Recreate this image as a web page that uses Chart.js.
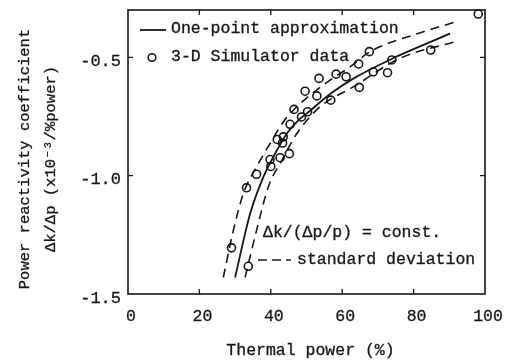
<!DOCTYPE html>
<html>
<head>
<meta charset="utf-8">
<script src="https://cdn.jsdelivr.net/npm/chart.js@4"></script>
<style>
  html, body { margin: 0; padding: 0; background: #fff; }
  #wrap { width: 514px; height: 361px; }
</style>
</head>
<body>
<div id="wrap"><canvas id="c" width="514" height="361"></canvas></div>
<script>
// 3-D simulator data points (thermal power %, coefficient)
const simX = [98.1, 84.8, 73.9, 72.7, 68.7, 67.6, 64.6, 64.8, 61.1, 58.3, 56.8, 53.5, 52.9, 50.3, 49.6,
              48.6, 46.5, 45.4, 45.2, 43.5, 43.3, 42.6, 41.8, 40.0, 39.8, 36.0, 33.2, 29.0, 33.7];
const simY = [-0.317, -0.469, -0.511, -0.565, -0.561, -0.476, -0.528, -0.627, -0.582, -0.571, -0.681, -0.589, -0.663, -0.730, -0.643,
              -0.752, -0.720, -0.783, -0.907, -0.836, -0.862, -0.924, -0.847, -0.961, -0.932, -0.994, -1.051, -1.305, -1.383];

// one-point approximation curve
const fitX = [30.0, 34.2, 37.9, 40.7, 44.5, 47.7, 50.1, 56.6, 63.1, 73.4, 90.2];
const fitY = [-1.43, -1.161, -1.006, -0.921, -0.822, -0.766, -0.737, -0.655, -0.590, -0.510, -0.400];

// standard deviation band
const upX = [26.7, 29.5, 32.3, 36.0, 39.8, 43.5, 47.3, 54.7, 62.2, 67.8, 80.0, 92.1];
const upY = [-1.43, -1.232, -1.076, -0.963, -0.864, -0.773, -0.709, -0.617, -0.540, -0.476, -0.405, -0.349];
const loX = [32.8, 36.0, 39.3, 43.1, 47.3, 53.8, 63.1, 76.2, 91.6];
const loY = [-1.43, -1.232, -1.048, -0.935, -0.822, -0.709, -0.625, -0.504, -0.434];

const xTicks = [0, 20, 40, 60, 80, 100];
const yTicks = [-1.5, -1.0, -0.5];

const xTitle = 'Thermal power (%)';
const yTitle = ['Power reactivity coefficient', '\u0394k/\u0394p (x10\u207B\u00B3/%power)'];

const FONT = "'Liberation Mono', monospace";
const INK = '#161616';
const HAIR = 0.3;

const pts = (xs, ys) => xs.map((x, i) => ({ x: x, y: ys[i] }));

// text with a hairline outline so the typewriter face looks a little heavier
function inkText(ctx, s, x, y) {
  ctx.fillText(s, x, y);
  ctx.strokeText(s, x, y);
}

const frame = {
  id: 'frame',
  afterDraw(chart) {
    const ctx = chart.ctx;
    const a = chart.chartArea;
    const sx = chart.scales.x, sy = chart.scales.y;
    ctx.save();
    ctx.strokeStyle = INK;
    ctx.lineWidth = 1.6;
    ctx.strokeRect(a.left, a.top, a.right - a.left, a.bottom - a.top);
    ctx.lineWidth = 1.3;
    ctx.beginPath();
    xTicks.slice(1, -1).forEach(v => {
      const p = sx.getPixelForValue(v);
      ctx.moveTo(p, a.bottom); ctx.lineTo(p, a.bottom - 5);
      ctx.moveTo(p, a.top); ctx.lineTo(p, a.top + 5);
    });
    yTicks.slice(1).forEach(v => {
      const p = sy.getPixelForValue(v);
      ctx.moveTo(a.left, p); ctx.lineTo(a.left + 5, p);
      ctx.moveTo(a.right, p); ctx.lineTo(a.right - 5, p);
    });
    ctx.stroke();

    ctx.fillStyle = INK;
    ctx.textBaseline = 'middle';

    // legend
    ctx.lineWidth = 1.8;
    ctx.beginPath();
    ctx.moveTo(140, 30); ctx.lineTo(166, 30);
    ctx.stroke();
    ctx.lineWidth = 1.6;
    ctx.beginPath();
    ctx.arc(152, 57.5, 3.8, 0, Math.PI * 2);
    ctx.stroke();

    ctx.font = '16.5px ' + FONT;
    ctx.lineWidth = HAIR;
    inkText(ctx, 'One-point approximation', 171, 29);
    inkText(ctx, '3-D Simulator data', 171, 57);

    // annotation
    inkText(ctx, '\u0394k/(\u0394p/p) = const.', 263, 233);
    inkText(ctx, 'standard deviation', 297, 260);
    ctx.lineWidth = 1.6;
    ctx.setLineDash([9, 5]);
    ctx.beginPath();
    ctx.moveTo(258, 260); ctx.lineTo(291, 260);
    ctx.stroke();
    ctx.setLineDash([]);

    // axis titles
    ctx.lineWidth = HAIR;
    ctx.textAlign = 'center';
    ctx.font = '16.5px ' + FONT;
    inkText(ctx, xTitle, (a.left + a.right) / 2 + 4, 351);
    ctx.translate(0, 159);
    ctx.rotate(-Math.PI / 2);
    ctx.font = '15.5px ' + FONT;
    inkText(ctx, yTitle[0], 0, 25);
    inkText(ctx, yTitle[1], 0, 51);
    ctx.restore();
  }
};

new Chart(document.getElementById('c'), {
  type: 'scatter',
  data: {
    datasets: [
      {
        type: 'line', data: pts(fitX, fitY), borderColor: INK, borderWidth: 1.8,
        pointRadius: 0, cubicInterpolationMode: 'monotone', fill: false
      },
      {
        type: 'line', data: pts(upX, upY), borderColor: INK, borderWidth: 1.6, borderDash: [9, 6],
        pointRadius: 0, cubicInterpolationMode: 'monotone', fill: false
      },
      {
        type: 'line', data: pts(loX, loY), borderColor: INK, borderWidth: 1.6, borderDash: [9, 6],
        pointRadius: 0, cubicInterpolationMode: 'monotone', fill: false
      },
      {
        data: pts(simX, simY), pointRadius: 4, pointBorderWidth: 1.6,
        pointBorderColor: INK, pointBackgroundColor: 'rgba(255,255,255,0)', clip: false
      }
    ]
  },
  options: {
    responsive: false,
    animation: false,
    events: [],
    layout: { padding: { top: 10, right: 29, left: 0, bottom: 0 } },
    plugins: { legend: { display: false }, tooltip: { enabled: false } },
    scales: {
      x: {
        type: 'linear', min: 0, max: 100,
        afterBuildTicks: s => { s.ticks = xTicks.map(v => ({ value: v })); },
        afterFit: s => { s.height = 67; s.paddingLeft = 0; s.paddingRight = 0; },
        grid: { display: false, drawTicks: false }, border: { display: false },
        ticks: {
          color: INK, padding: 13, labelOffset: 3, maxRotation: 0,
          font: { family: FONT, size: 16.5 }, textStrokeColor: INK, textStrokeWidth: HAIR
        }
      },
      y: {
        type: 'linear', min: -1.5, max: -0.3,
        afterBuildTicks: s => { s.ticks = yTicks.map(v => ({ value: v })); },
        afterFit: s => { s.width = 128; s.paddingTop = 0; s.paddingBottom = 0; },
        grid: { display: false, drawTicks: false }, border: { display: false },
        ticks: {
          color: INK, padding: 7, labelOffset: 4, callback: v => v.toFixed(1),
          font: { family: FONT, size: 17 }, textStrokeColor: INK, textStrokeWidth: HAIR
        }
      }
    }
  },
  plugins: [frame]
});
</script>
</body>
</html>
